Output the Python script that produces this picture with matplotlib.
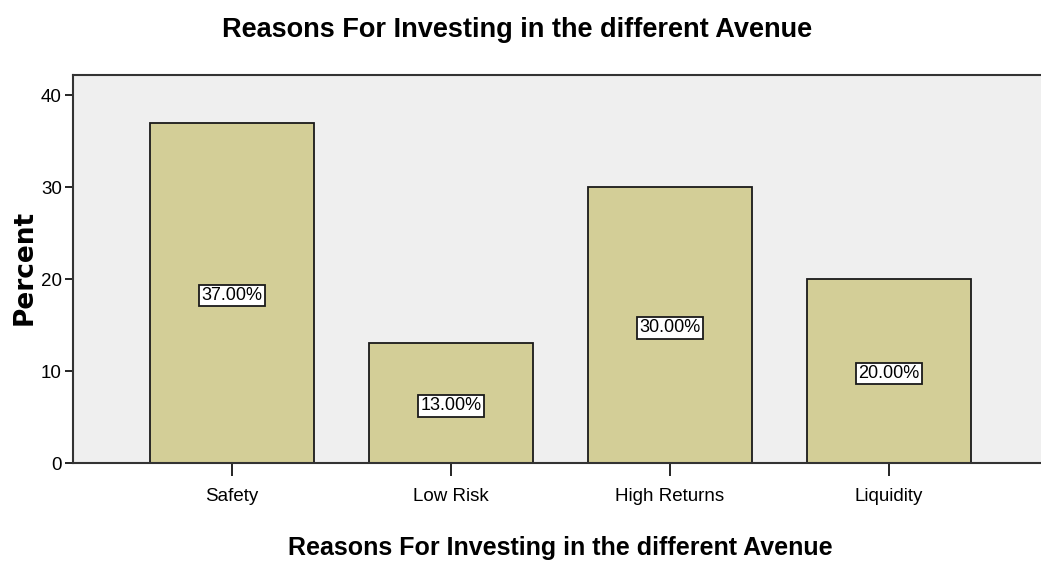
import matplotlib
matplotlib.use("Agg")
import matplotlib.pyplot as plt

categories = ["Safety", "Low Risk", "High Returns", "Liquidity"]
percents = [37.0, 13.0, 30.0, 20.0]
bar_labels = ["37.00%", "13.00%", "30.00%", "20.00%"]
yticks = [0, 10, 20, 30, 40]

plt.rcParams['font.family'] = ['Liberation Sans Narrow', 'Liberation Sans', 'DejaVu Sans']

W, H = 1041, 565
fig = plt.figure(figsize=(W / 100, H / 100), dpi=100)
fig.patch.set_facecolor('white')

left, right, top, bottom = 73, 1048, 75, 463
ax = fig.add_axes([left / W, 1 - bottom / H, (right - left) / W, (bottom - top) / H])
ax.set_facecolor('#efefef')

x = list(range(len(categories)))
ax.bar(x, percents, width=0.75, color='#d3ce97', edgecolor='#1a1a1a', linewidth=1.3, zorder=2)

for xi, v, lab in zip(x, percents, bar_labels):
    ax.text(xi, v / 2 - 0.3, lab, ha='center', va='center', fontsize=13, color='black', zorder=3,
            bbox=dict(boxstyle='square,pad=0.12', facecolor='white', edgecolor='#1a1a1a', linewidth=1.3))

ax.set_xlim(-0.726, 3.726)
ax.set_ylim(0, 42.2)
ax.set_yticks(yticks)
ax.set_yticklabels([str(t) for t in yticks], fontsize=13.5)
ax.set_xticks(x)
ax.set_xticklabels(categories, fontsize=13.5)
ax.tick_params(axis='y', length=6, width=1.2, pad=2)
ax.tick_params(axis='x', length=9, width=1.2, pad=9)

for s in ['left', 'bottom', 'top']:
    ax.spines[s].set_linewidth(1.5)
    ax.spines[s].set_color('#333333')
ax.spines['right'].set_visible(False)

fig.text(25 / W, 1 - 267 / H, 'Percent', rotation=90, ha='center', va='center',
         fontsize=19, fontweight='bold', family=['DejaVu Sans'])
fig.text(560 / W, 1 - 548 / H, 'Reasons For Investing in the different Avenue', ha='center', va='center',
         fontsize=18, fontweight='bold')
fig.text(517 / W, 1 - 30 / H, 'Reasons For Investing in the different Avenue', ha='center', va='center',
         fontsize=19.5, fontweight='bold')

fig.savefig('out.png', dpi=100)
